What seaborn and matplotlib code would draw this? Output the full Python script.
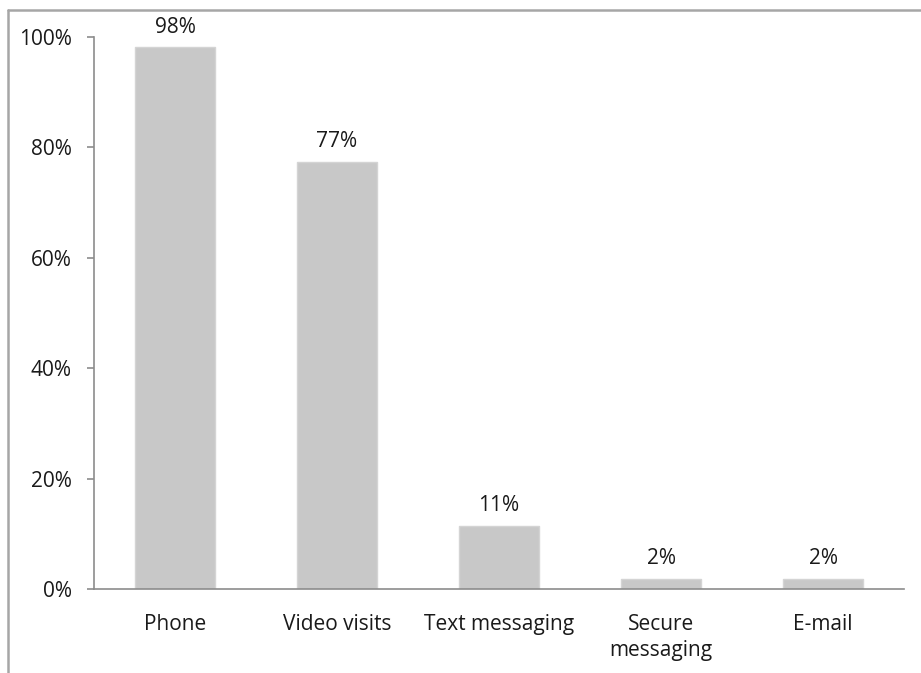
import pandas as pd
import matplotlib
matplotlib.use('Agg')
import matplotlib.pyplot as plt
import seaborn as sns
from matplotlib.lines import Line2D

categories = ['Phone', 'Video visits', 'Text messaging', 'Secure\nmessaging', 'E-mail']
shares = [0.981, 0.774, 0.114, 0.019, 0.019]
bar_labels = ['98%', '77%', '11%', '2%', '2%']
ytick_vals = [0, 0.2, 0.4, 0.6, 0.8, 1.0]
ytick_labels = ['0%', '20%', '40%', '60%', '80%', '100%']

df = pd.DataFrame({'channel': categories, 'share': shares})

sns.set_style('white')
plt.rcParams['font.family'] = ['Open Sans', 'DejaVu Sans']

fig = plt.figure(figsize=(9.21, 6.73), dpi=100)
ax = fig.add_axes([94/921, 1 - 589/673, (904 - 94)/921, (589 - 37)/673])

sns.barplot(data=df, x='channel', y='share', ax=ax, color='#c8c8c8', width=0.49,
            saturation=1, edgecolor='#d4d4d4', linewidth=1)

ax.bar_label(ax.containers[0], labels=bar_labels, padding=7, fontsize=15, color='#1a1a1a')

ax.set_xlim(-0.5, 4.5)
ax.set_ylim(0, 1)
ax.set_yticks(ytick_vals)
ax.set_yticklabels(ytick_labels, fontsize=15, color='#1a1a1a')
ax.set_xticks(range(len(categories)))
ax.set_xticklabels(categories, fontsize=15, color='#1a1a1a', linespacing=1.3)
ax.set_xticks([-0.5, 0.5, 1.5, 2.5, 3.5, 4.5], minor=True)
ax.tick_params(axis='x', which='major', length=0, pad=18)
ax.tick_params(axis='x', which='minor', length=5, width=1.2, color='#8c8c8c', direction='out')
ax.tick_params(axis='y', length=5, width=1.2, color='#8c8c8c', direction='out', pad=11, left=True)
ax.set_xlabel('')
ax.set_ylabel('')

for s in ['top', 'right']:
    ax.spines[s].set_visible(False)
for s in ['left', 'bottom']:
    ax.spines[s].set_color('#8c8c8c')
    ax.spines[s].set_linewidth(1.2)

# outer chart frame (partly cropped in the original)
fx, fy = 8/921, 1 - 10/673
fig.add_artist(Line2D([fx, 1.0], [fy, fy], transform=fig.transFigure, color='#a6a6a6', lw=1.8))
fig.add_artist(Line2D([fx, fx], [0, fy], transform=fig.transFigure, color='#a6a6a6', lw=1.8))

fig.savefig('out.png', dpi=100)
